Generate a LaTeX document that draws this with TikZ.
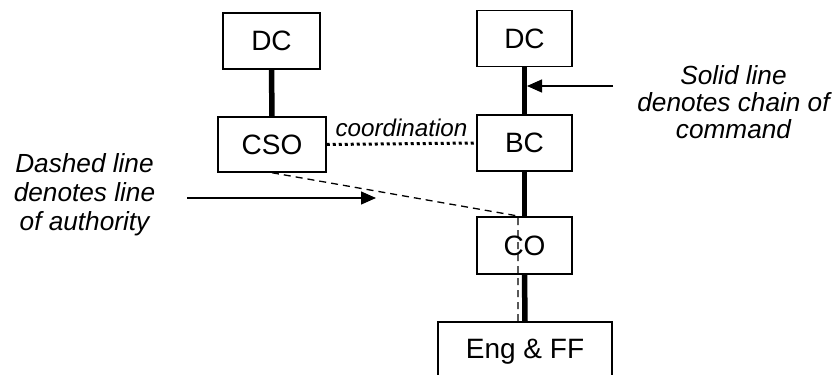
\documentclass[tikz,border=0pt]{standalone}
\usepackage{fontspec}
\setmainfont{Liberation Sans}
\usetikzlibrary{arrows.meta}
\tikzset{
  box/.style={draw, line width=1.5pt, inner sep=0pt, minimum width=95pt, minimum height=56pt, font=\fontsize{28}{32}\selectfont},
  cmd/.style={line width=5.5pt},
  auth/.style={line width=1.3pt, dash pattern=on 7pt off 5pt},
  coord/.style={line width=3pt, dash pattern=on 3pt off 3pt},
  pointer/.style={line width=1.3pt, -{Triangle[length=15pt, width=13pt]}},
  note/.style={align=center, font=\fontsize{26.2}{29}\selectfont\itshape},
}
\begin{document}
\begin{tikzpicture}[x=1pt, y=-1pt]
\useasboundingbox (0,0) rectangle (839,375);
\clip (0,0) rectangle (839,375);
\node[box, minimum width=97pt] (dcL) at (271.5,41) {DC};
\node[box, minimum width=108pt, minimum height=55pt] (cso) at (272,144.5) {CSO};
\node[box] (dcR) at (524.5,38.5) {DC};
\node[box] (bc) at (524.5,143) {BC};
\node[box, minimum height=57pt] (co) at (524.5,245.5) {CO};
\node[box, minimum width=174pt, minimum height=60pt] (eng) at (525,352) {Eng \& FF};
\draw[cmd] (dcL.south) -- (cso.north);
\draw[cmd] (dcR.south) -- (bc.north);
\draw[cmd] (bc.south) -- (co.north);
\draw[cmd] (co.south) -- (eng.north);
\draw[coord] (cso.east) -- (bc.west) node[midway, above=2pt, font=\fontsize{24.2}{28}\selectfont\itshape] (coordlbl) {coordination};
\coordinate (bend) at (518,216);
\draw[auth] (cso.south) -- (bend) -- (bend |- eng.north);
\coordinate (tipR) at (527,86);
\coordinate (tailR) at (613,86);
\draw[pointer] (tailR) -- (tipR);
\coordinate (tailL) at (187,198);
\coordinate (tipL) at (376,198);
\draw[pointer] (tailL) -- (tipL);
\node[note] (dashnote) at (84.5,195) {Dashed line\\denotes line\\of authority};
\node[note, font=\fontsize{26.2}{27}\selectfont\itshape] (solidnote) at (733.5,102) {Solid line\\denotes chain of\\command};
\end{tikzpicture}
\end{document}
